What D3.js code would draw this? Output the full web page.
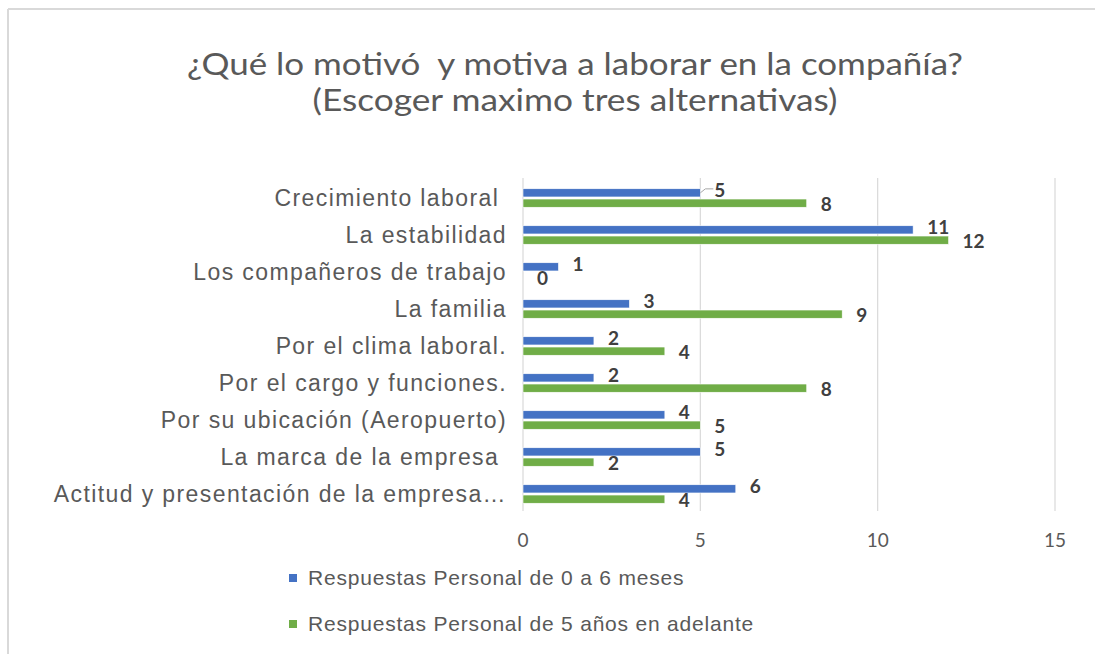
<!DOCTYPE html>
<html>
<head>
<meta charset="utf-8">
<title>Motivación</title>
<style>
  body { margin: 0; background: #fff; }
  text { white-space: pre; }
</style>
</head>
<body>
<svg class="chart"></svg>
<script src="https://cdn.jsdelivr.net/npm/d3@7"></script>
<script>
// data
const categories = [
    "Crecimiento laboral ",
    "La estabilidad",
    "Los compañeros de trabajo",
    "La familia",
    "Por el clima laboral.",
    "Por el cargo y funciones.",
    "Por su ubicación (Aeropuerto)",
    "La marca de la empresa ",
    "Actitud y presentación de la empresa…"
]
const seriesNames = ["Respuestas Personal de 0 a 6 meses", "Respuestas Personal de 5 años en adelante"]
const nuevos = [5, 11, 1, 3, 2, 2, 4, 5, 6]
const antiguos = [8, 12, 0, 9, 4, 8, 5, 2, 4]
const xTicks = [0, 5, 10, 15]
const titleLines = ["¿Qué lo motivó  y motiva a laborar en la compañía?", "(Escoger maximo tres alternativas)"]

const width = 1095, height = 654
const colors = ["#4472C4", "#70AD47"]
const grey = "#595959"

const svg = d3.select(".chart")
    .attr("width", width)
    .attr("height", height)
    .style("display", "block")

svg.append("rect").attr("width", width).attr("height", height).attr("fill", "#fff")

// frame (only top and left edges are visible in the picture)
svg.append("line").attr("x1", 8).attr("x2", width).attr("y1", 9).attr("y2", 9)
    .attr("stroke", "#d9d9d9").attr("stroke-width", 2)
svg.append("line").attr("x1", 8).attr("x2", 8).attr("y1", 9).attr("y2", height)
    .attr("stroke", "#d9d9d9").attr("stroke-width", 2)

// title
const titleWidths = [776, 525]
svg.append("g").selectAll("text")
    .data(titleLines)
    .enter()
    .append("text")
    .attr("x", 575)
    .attr("y", (d, i) => 75 + i * 36)
    .attr("text-anchor", "middle")
    .attr("font-family", "Lato, 'Open Sans', sans-serif")
    .attr("font-size", 31)
    .attr("fill", grey)
    .attr("textLength", (d, i) => titleWidths[i])
    .attr("lengthAdjust", "spacingAndGlyphs")
    .text(d => d)

const xScale = d3.scaleLinear().domain([0, 15]).range([523, 1055])

const yScale = d3.scaleBand()
    .domain(categories)
    .range([179.5, 512.5])
    .paddingInner(0.5)
    .paddingOuter(0.25)

const inner = d3.scaleBand()
    .domain([0, 1])
    .range([0, yScale.bandwidth()])
    .paddingInner(0.2)

const plotTop = 178, plotBottom = 511

// gridlines
svg.append("g")
    .selectAll("line")
    .data(xTicks)
    .enter()
    .append("line")
    .attr("x1", d => xScale(d))
    .attr("x2", d => xScale(d))
    .attr("y1", plotTop)
    .attr("y2", plotBottom)
    .attr("stroke", "#d9d9d9")
    .attr("stroke-width", 1.2)

// x tick labels
svg.append("g")
    .selectAll("text")
    .data(xTicks)
    .enter()
    .append("text")
    .attr("x", d => xScale(d))
    .attr("y", 547)
    .attr("text-anchor", "middle")
    .attr("font-family", "Lato, sans-serif")
    .attr("font-size", 19)
    .attr("fill", grey)
    .text(d => d)

// category labels
svg.append("g")
    .selectAll("text")
    .data(categories)
    .enter()
    .append("text")
    .attr("x", 507)
    .attr("y", d => yScale(d) + yScale.bandwidth() / 2)
    .attr("dy", "0.35em")
    .attr("text-anchor", "end")
    .attr("font-family", "'Liberation Sans', Arial, sans-serif")
    .attr("font-size", 23)
    .attr("letter-spacing", 1.4)
    .attr("fill", grey)
    .text(d => d)

const rows = []
categories.forEach((c, i) => {
    rows.push({ cat: c, s: 0, v: nuevos[i] })
    rows.push({ cat: c, s: 1, v: antiguos[i] })
})

// bars
svg.append("g")
    .selectAll("rect")
    .data(rows)
    .enter()
    .append("rect")
    .attr("x", xScale(0))
    .attr("y", d => yScale(d.cat) + inner(d.s))
    .attr("width", d => xScale(d.v) - xScale(0))
    .attr("height", inner.bandwidth())
    .attr("fill", d => colors[d.s])
    .attr("stroke", "#fff")
    .attr("stroke-width", 0.6)

// value labels: blue ones sit a bit above their bar, green ones a bit below
svg.append("g")
    .selectAll("text")
    .data(rows)
    .enter()
    .append("text")
    .attr("x", d => xScale(d.v) + 14)
    .attr("y", d => yScale(d.cat) + inner(d.s) + inner.bandwidth() / 2 + (d.s == 0 ? -3 : 1))
    .attr("dy", "0.35em")
    .attr("font-family", "Lato, 'Open Sans', sans-serif")
    .attr("font-weight", "bold")
    .attr("font-size", 19)
    .attr("fill", "#404040")
    .text(d => d.v)

// little leader line on the first label
const first = rows[0]
const fy = yScale(first.cat) + inner(first.s) + inner.bandwidth() / 2
svg.append("path")
    .attr("d", `M${xScale(first.v)},${fy} L${xScale(first.v) + 5},${fy - 4} L${xScale(first.v) + 13},${fy - 4}`)
    .attr("fill", "none")
    .attr("stroke", "#a6a6a6")
    .attr("stroke-width", 1)

// legend
const legend = svg.append("g")
    .selectAll("g")
    .data(seriesNames)
    .enter()
    .append("g")
    .attr("transform", (d, i) => `translate(289, ${578 + i * 46})`)

legend.append("rect")
    .attr("x", 0).attr("y", -4)
    .attr("width", 8).attr("height", 8)
    .attr("fill", (d, i) => colors[i])

legend.append("text")
    .attr("x", 19)
    .attr("dy", "0.35em")
    .attr("font-family", "'Liberation Sans', Arial, sans-serif")
    .attr("font-size", 21)
    .attr("letter-spacing", 0.8)
    .attr("fill", grey)
    .text(d => d)
</script>
</body>
</html>
